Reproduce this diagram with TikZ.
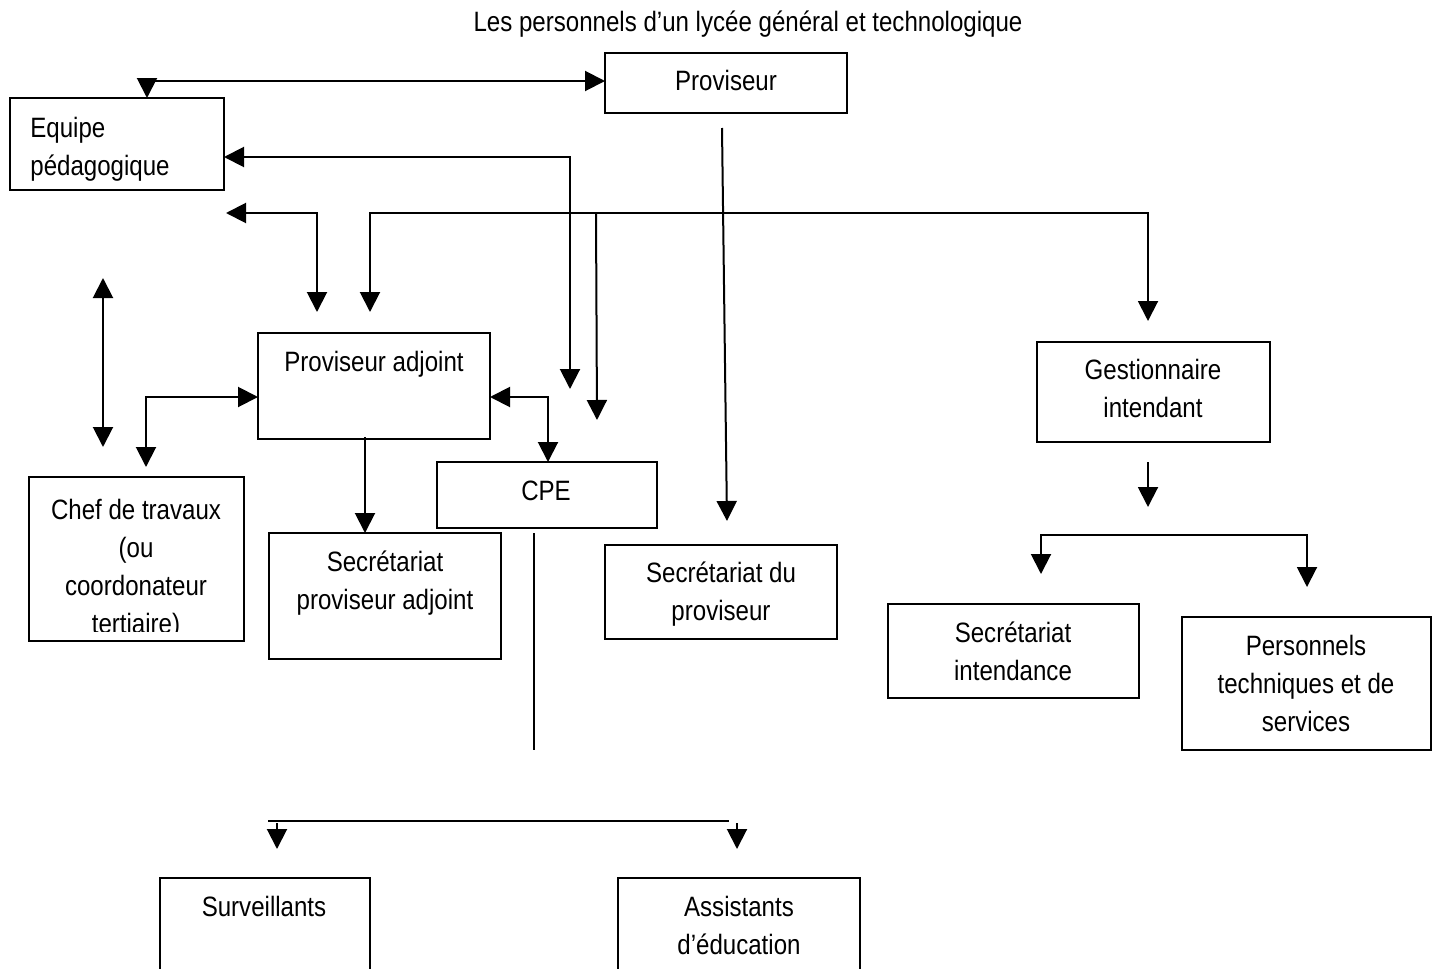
\documentclass[tikz,border=0pt]{standalone}
\usepackage{fontspec}
\setmainfont{Liberation Sans}[FakeStretch=0.86]
\usetikzlibrary{arrows.meta,positioning}

\begin{document}
\begin{tikzpicture}[x=0.5pt, y=-0.5pt]

  \tikzset{BoxStyle/.style = {
  shape = rectangle,
  draw,
  line width = 1pt,
  inner sep = 0pt,
  outer sep = 0pt},
  TextStyle/.style = {
  align = center,
  inner sep = 0pt,
  font = \fontsize{14}{19}\selectfont},
  LinkStyle/.style = {
  line width = 1pt,
  -{Triangle[length=10pt, width=10pt]}},
  LinkBoth/.style = {
  line width = 1pt,
  {Triangle[length=10pt, width=10pt]}-{Triangle[length=10pt, width=10pt]}},
  LineStyle/.style = {
  line width = 1pt}}

  \useasboundingbox (0,0) rectangle (1435,969);

  \node[TextStyle] (titre) at (748,24) {Les personnels d’un lycée général et technologique};

  \node[BoxStyle, minimum width=121pt, minimum height=30pt] (prov) at (726,83) {};
  \node[BoxStyle, minimum width=107pt, minimum height=46pt] (equipe) at (117,144) {};
  \node[BoxStyle, minimum width=116pt, minimum height=53pt] (adjoint) at (374,385.5) {};
  \node[BoxStyle, minimum width=110pt, minimum height=33pt] (cpe) at (547,495) {};
  \node[BoxStyle, minimum width=107.5pt, minimum height=82pt] (chef) at (136.5,559) {};
  \node[BoxStyle, minimum width=116pt, minimum height=63pt] (secpa) at (385,596) {};
  \node[BoxStyle, minimum width=116pt, minimum height=47pt] (secprov) at (721,592) {};
  \node[BoxStyle, minimum width=116.5pt, minimum height=50pt] (gest) at (1153.5,392) {};
  \node[BoxStyle, minimum width=125.5pt, minimum height=47pt] (secint) at (1013.5,651) {};
  \node[BoxStyle, minimum width=124.5pt, minimum height=66.5pt] (perso) at (1306.5,683.5) {};
  \node[BoxStyle, minimum width=105pt, minimum height=56pt] (surv) at (265,934) {};
  \node[BoxStyle, minimum width=121pt, minimum height=56pt] (assist) at (739,934) {};

  \node[TextStyle] (provtxt) at (726,80) {Proviseur};
  \node[TextStyle, align=left, anchor=west] (equipetxt) at (30,149) {Equipe\\pédagogique};
  \node[TextStyle] (adjointtxt) at (374,364) {Proviseur adjoint};
  \node[TextStyle] (cpetxt) at (546,491) {CPE};
  \begin{scope}
    \clip (29,477) rectangle (244,631);
    \node[TextStyle] (cheftxt) at (136,569) {Chef de travaux\\(ou\\coordonateur\\tertiaire)};
  \end{scope};
  \node[TextStyle] (secpatxt) at (385,583) {Secrétariat\\proviseur adjoint};
  \node[TextStyle] (secprovtxt) at (721,594) {Secrétariat du\\proviseur};
  \node[TextStyle] (gesttxt) at (1153,388) {Gestionnaire\\intendant};
  \node[TextStyle] (secinttxt) at (1013,651) {Secrétariat\\intendance};
  \node[TextStyle] (persotxt) at (1306,683) {Personnels\\techniques et de\\services};
  \node[TextStyle] (survtxt) at (264,906) {Surveillants};
  \node[TextStyle] (assisttxt) at (739,925) {Assistants\\d’éducation};

  \coordinate (kTop) at (147,81);
  \coordinate (kA) at (570,157);
  \coordinate (kB) at (570,389);
  \coordinate (kC) at (226,213);
  \coordinate (kD) at (317,312);
  \coordinate (kE) at (370,312);
  \coordinate (kF) at (370,213);
  \coordinate (kG) at (1148,321);
  \coordinate (kH) at (596,213);
  \coordinate (kI) at (597,420);
  \coordinate (kJ) at (722,128);
  \coordinate (kK) at (727,521);
  \coordinate (kL) at (103,278);
  \coordinate (kM) at (103,447);
  \coordinate (kN) at (146,467);
  \coordinate (kO) at (146,397);
  \coordinate (kP) at (548,397);
  \coordinate (kQ) at (365,437);
  \coordinate (kR) at (534,533);
  \coordinate (kS) at (534,750);
  \coordinate (kT) at (1148,462);
  \coordinate (kU) at (1148,507);
  \coordinate (kV) at (1041,574);
  \coordinate (kW) at (1041,535);
  \coordinate (kX) at (1307,587);
  \coordinate (kY1) at (268,821);
  \coordinate (kY2) at (729,821);
  \coordinate (kZ1) at (277,823);
  \coordinate (kZ2) at (277,849);
  \coordinate (kZ3) at (737,823);
  \coordinate (kZ4) at (737,849);

  \draw[LinkBoth] (equipe.north -| kTop) -- (kTop) -- (prov.west |- kTop);
  \draw[LinkBoth] (equipe.east |- kA) -- (kA) -- (kB);
  \draw[LinkBoth] (kC) -| (kD);
  \draw[LinkBoth] (kE) -- (kF) -| (kG);
  \draw[LinkStyle] (kH) -- (kI);
  \draw[LinkStyle] (kJ) -- (kK);
  \draw[LinkBoth] (kL) -- (kM);
  \draw[LinkBoth] (kN) -- (kO) -- (adjoint.west |- kO);
  \draw[LinkBoth] (adjoint.east |- kP) -- (kP) -- (cpe.north -| kP);
  \draw[LinkStyle] (kQ) -- (secpa.north -| kQ);
  \draw[LineStyle] (kR) -- (kS);
  \draw[LinkStyle] (kT) -- (kU);
  \draw[LinkBoth] (kV) -- (kW) -| (kX);
  \draw[LineStyle] (kY1) -- (kY2);
  \draw[LinkStyle] (kZ1) -- (kZ2);
  \draw[LinkStyle] (kZ3) -- (kZ4);
\end{tikzpicture}
\end{document}
